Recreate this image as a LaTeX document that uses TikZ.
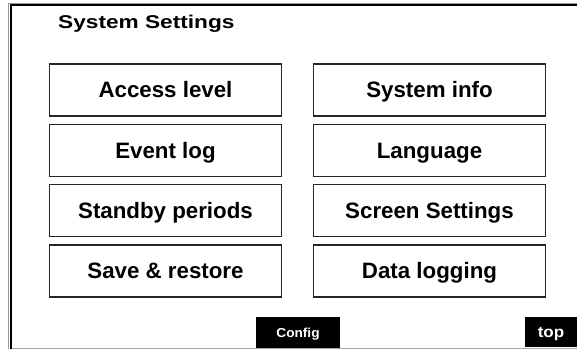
\documentclass[tikz,border=0pt]{standalone}
\usepackage{fontspec}
\setmainfont{Liberation Sans}
\begin{document}
\begin{tikzpicture}[x=1pt,y=-1pt,
  menubox/.style={draw=black!85,line width=1.4pt,fill=white,minimum width=232pt,minimum height=52pt,inner sep=0pt,text height=15.6pt,text depth=0pt,font=\fontsize{22.3}{24}\selectfont\bfseries},
  softbtn/.style={fill=black,text=white,inner sep=0pt,font=\bfseries}]
\useasboundingbox (0,0) rectangle (577,350);
\fill[white] (0,0) rectangle (577,350);
% frame
\draw[black!35,line width=0.8pt] (10,348.5) -- (577,348.5);
\draw[black!40,line width=0.8pt] (8.5,349) -- (8.5,3.5) -- (577,3.5);
\draw[black,line width=2pt] (10.5,349) -- (10.5,5) -- (577,5);
% title
\node[anchor=base west,inner sep=0pt,font=\fontsize{18.5}{22}\selectfont\bfseries] (title) at (58,28.3) {\scalebox{1.225}[1]{System Settings}};
% menu boxes
\node[menubox] (access) at (165.5,90) {Access level};
\node[menubox] (event) at (165.5,150.3) {Event log};
\node[menubox] (standby) at (165.5,210.6) {Standby periods};
\node[menubox] (save) at (165.5,271) {Save \& restore};
\node[menubox] (sysinfo) at (429.5,90) {System info};
\node[menubox] (lang) at (429.5,150.3) {Language};
\node[menubox] (screen) at (429.5,210.6) {Screen Settings};
\node[menubox] (datalog) at (429.5,271) {Data logging};
% soft buttons
\node[softbtn,minimum width=84pt,minimum height=31.5pt,text height=9.3pt,text depth=0pt,font=\fontsize{13}{15}\selectfont\bfseries] (config) at (298,332.5) {\scalebox{1.05}[1]{Config}};
\node[softbtn,minimum width=52pt,minimum height=30.5pt,text height=10.5pt,text depth=0pt,font=\fontsize{15.5}{17}\selectfont\bfseries] (top) at (551,332) {\scalebox{1.1}[1]{top}};
\end{tikzpicture}
\end{document}
